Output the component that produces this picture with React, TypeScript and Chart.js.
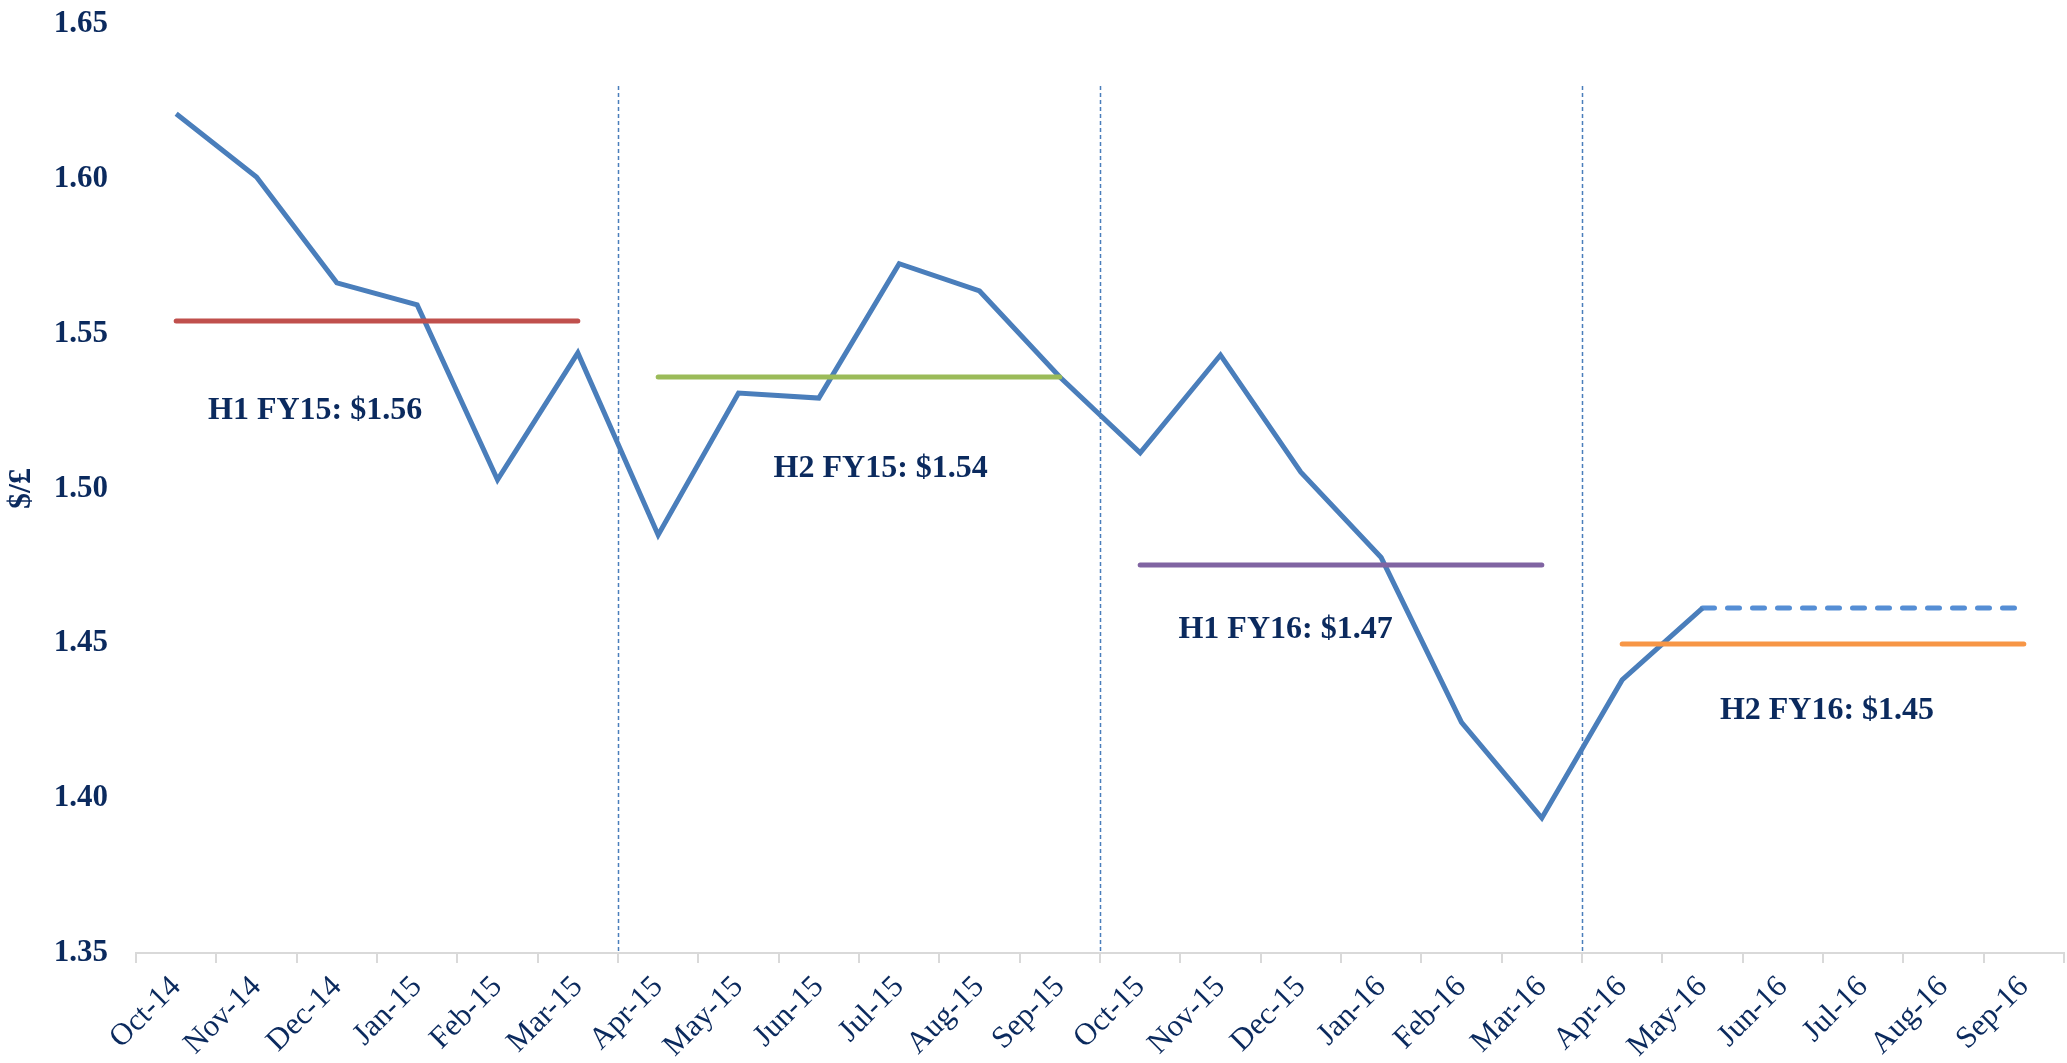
import { useEffect, useRef } from 'react';
import { Chart, registerables } from 'chart.js';

Chart.register(...registerables);

const months = [
  'Oct-14', 'Nov-14', 'Dec-14', 'Jan-15', 'Feb-15', 'Mar-15',
  'Apr-15', 'May-15', 'Jun-15', 'Jul-15', 'Aug-15', 'Sep-15',
  'Oct-15', 'Nov-15', 'Dec-15', 'Jan-16', 'Feb-16', 'Mar-16',
  'Apr-16', 'May-16', 'Jun-16', 'Jul-16', 'Aug-16', 'Sep-16',
];

// Monthly $/£ rate (actual)
const rate: (number | null)[] = [
  1.621, 1.6006, 1.5664, 1.5593, 1.5028, 1.5438,
  1.485, 1.5308, 1.5292, 1.5726, 1.5638, 1.536,
  1.5115, 1.5431, 1.5053, 1.4777, 1.4245, 1.3936,
  1.4382, 1.4614, null, null, null, null,
];

// Assumed rate for the rest of H2 FY16 (dashed)
const assumed: (number | null)[] = [
  null, null, null, null, null, null,
  null, null, null, null, null, null,
  null, null, null, null, null, null,
  null, 1.4614, 1.4614, 1.4614, 1.4614, 1.4614,
];

// Half-year averages
const halfStarts = [0, 6, 12, 18];
const halfAverages = [1.5541, 1.536, 1.4753, 1.4498];
const halfLabels = ['H1 FY15: $1.56', 'H2 FY15: $1.54', 'H1 FY16: $1.47', 'H2 FY16: $1.45'];
const halfColors = ['#C0504D', '#9BBB59', '#8064A2', '#F79646'];

// label anchor (category index, value) for each half-year caption
const labelAnchors = [
  { x: 1.73, y: 1.525 },
  { x: 8.77, y: 1.5063 },
  { x: 13.81, y: 1.4543 },
  { x: 20.55, y: 1.4282 },
];

const yTicks = { min: 1.35, max: 1.65, step: 0.05 };

const NAVY = '#0B2A5E';
const FONT = '"Liberation Serif", "Times New Roman", serif';

const overlayPlugin = {
  id: 'overlay',
  beforeDatasetsDraw(chart: any) {
    const { ctx, scales } = chart;
    const x = scales.x;
    const y = scales.y;
    ctx.save();
    ctx.strokeStyle = '#4A7EBB';
    ctx.lineWidth = 1.5;
    ctx.setLineDash([4, 3]);
    for (let i = 1; i < halfStarts.length; i++) {
      const px = Math.round(x.getPixelForValue(halfStarts[i] - 0.5)) + 0.5;
      ctx.beginPath();
      ctx.moveTo(px, y.getPixelForValue(1.63));
      ctx.lineTo(px, y.getPixelForValue(yTicks.min));
      ctx.stroke();
    }
    ctx.restore();
  },
  afterDatasetsDraw(chart: any) {
    const { ctx, scales } = chart;
    const x = scales.x;
    const y = scales.y;
    ctx.save();
    ctx.fillStyle = NAVY;
    ctx.font = `bold 32px ${FONT}`;
    ctx.textAlign = 'center';
    ctx.textBaseline = 'middle';
    halfLabels.forEach((t, i) => {
      ctx.fillText(t, x.getPixelForValue(labelAnchors[i].x), y.getPixelForValue(labelAnchors[i].y));
    });
    ctx.restore();
  },
};

export default function App() {
  const canvasRef = useRef<HTMLCanvasElement | null>(null);

  useEffect(() => {
    document.body.style.margin = '0';
    document.body.style.overflow = 'hidden';
    const canvas = canvasRef.current;
    if (!canvas) return;

    const avgDatasets = halfAverages.map((avg, k) => ({
      label: halfLabels[k],
      data: months.map((_, i) => (i >= halfStarts[k] && i < halfStarts[k] + 6 ? avg : null)),
      borderColor: halfColors[k],
      borderWidth: 5,
      borderCapStyle: 'round' as const,
      pointRadius: 0,
      spanGaps: false,
      fill: false,
    }));

    const chart = new Chart(canvas, {
      type: 'line',
      data: {
        labels: months,
        datasets: [
          ...avgDatasets,
          {
            label: '$/£',
            data: rate,
            borderColor: '#4A7EBB',
            borderWidth: 5,
            pointRadius: 0,
            fill: false,
            spanGaps: false,
          },
          {
            label: 'Assumed',
            data: assumed,
            borderColor: '#558ED5',
            borderWidth: 5,
            borderDash: [12, 13],
            borderCapStyle: 'round',
            pointRadius: 0,
            fill: false,
          },
        ],
      },
      options: {
        responsive: false,
        animation: false,
        devicePixelRatio: 1,
        layout: { padding: { top: 24, right: 3, left: 0, bottom: 0 } },
        plugins: {
          legend: { display: false },
          tooltip: { enabled: false },
        },
        elements: { line: { tension: 0 }, point: { radius: 0 } },
        scales: {
          x: {
            type: 'category',
            offset: true,
            grid: {
              display: true,
              drawOnChartArea: false,
              drawTicks: true,
              tickLength: 10,
              color: '#D9D9D9',
              lineWidth: 2,
              offset: true,
            },
            border: { display: true, color: '#D9D9D9', width: 2 },
            ticks: {
              autoSkip: false,
              minRotation: 45,
              maxRotation: 45,
              padding: 6,
              color: NAVY,
              font: { family: FONT, size: 31 },
            },
            afterFit: (s: any) => {
              s.height = 110;
            },
          },
          y: {
            type: 'linear',
            min: yTicks.min,
            max: yTicks.max,
            ticks: {
              stepSize: yTicks.step,
              padding: 28,
              color: NAVY,
              font: { family: FONT, size: 31, weight: 'bold' },
              callback: (v: any) => Number(v).toFixed(2),
            },
            grid: {
              display: true,
              drawOnChartArea: false,
              drawTicks: false,
              color: 'rgba(0,0,0,0)',
            },
            border: { display: false },
            title: {
              display: true,
              text: '$/£',
              color: NAVY,
              font: { family: FONT, size: 32, weight: 'bold' },
              padding: { top: 3, bottom: 0 },
            },
            afterFit: (s: any) => {
              s.width = 136;
              s.paddingTop = 0;
              s.paddingBottom = 0;
            },
          },
        },
      },
      plugins: [overlayPlugin],
    });

    return () => {
      chart.destroy();
    };
  }, []);

  return (
    <div style={{ width: 2067, height: 1063 }}>
      <canvas ref={canvasRef} width={2067} height={1063} style={{ display: 'block' }} />
    </div>
  );
}
